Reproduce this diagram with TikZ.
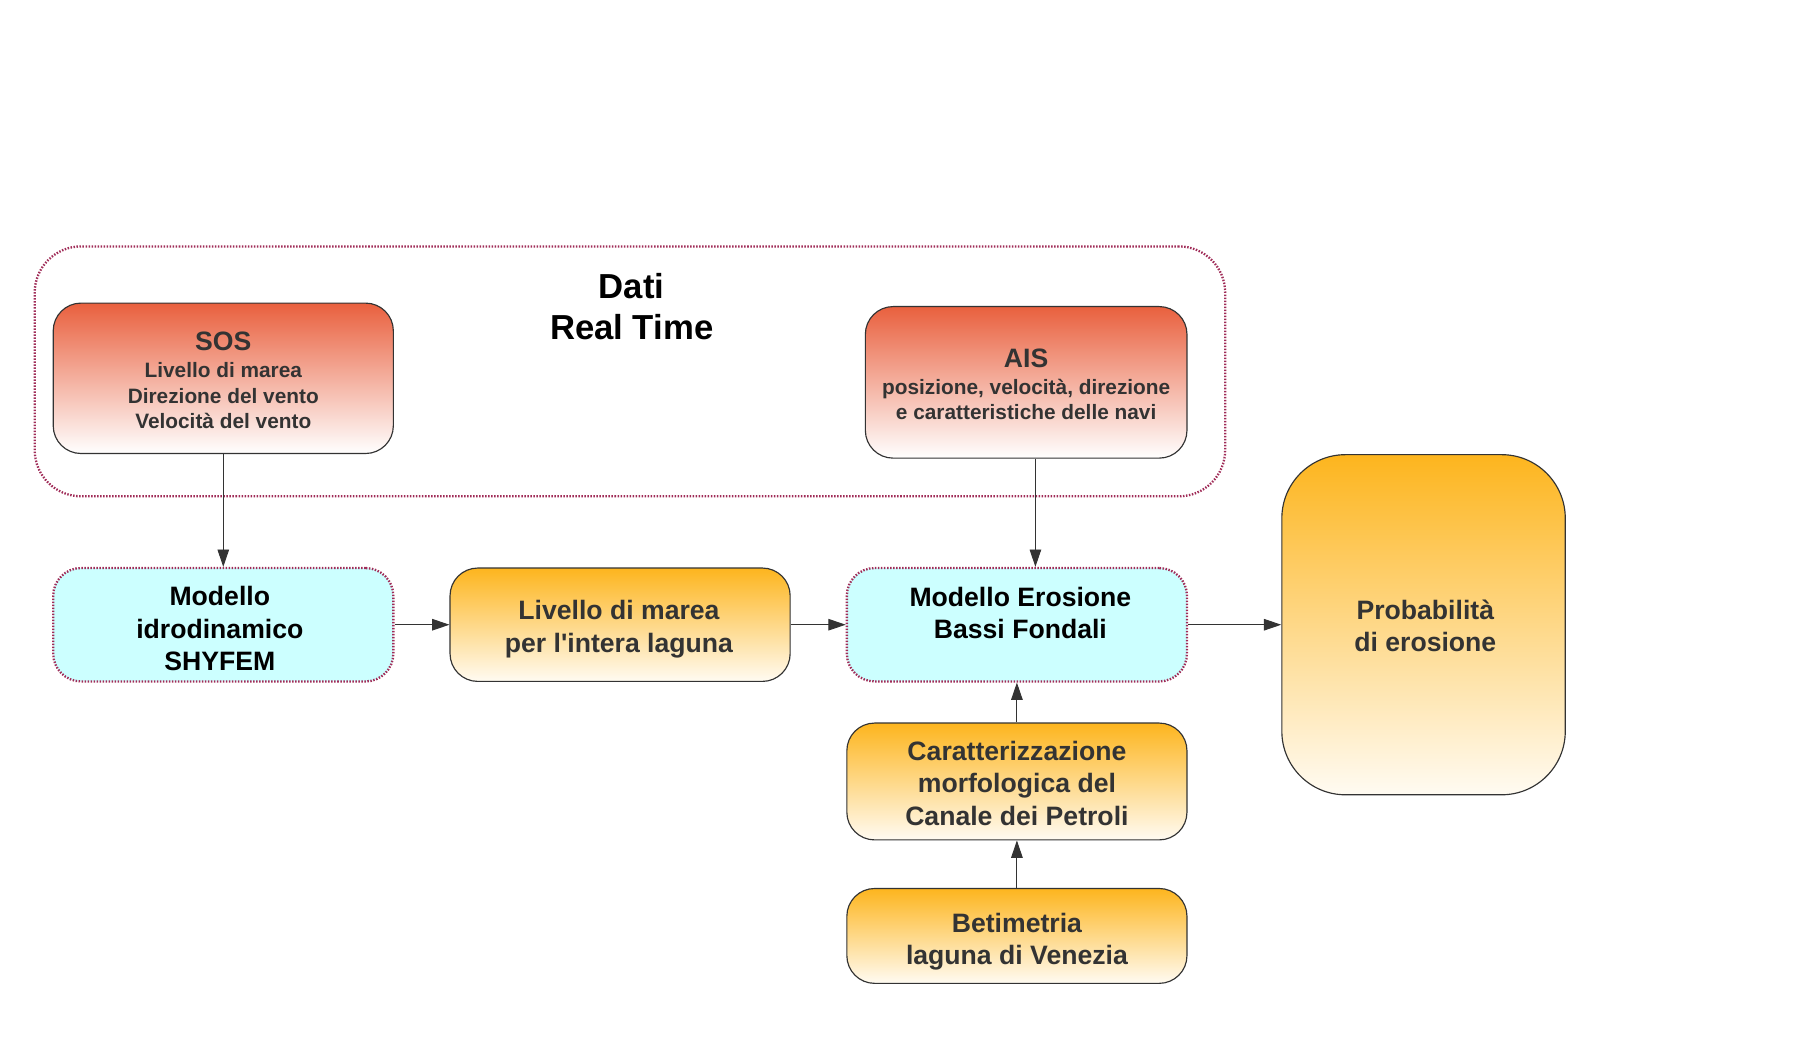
\documentclass[tikz,border=0pt]{standalone}
\usepackage{fontspec}
\setmainfont{Liberation Sans}[Ligatures=TeXOff]
\usetikzlibrary{arrows.meta,calc}
\definecolor{sosred}{HTML}{E9603E}
\definecolor{orng}{HTML}{FDB51E}
\definecolor{orngbot}{HTML}{FFFBF2}
\definecolor{cyanf}{HTML}{CCFFFF}
\definecolor{dotc}{HTML}{A02C58}
\definecolor{txt}{HTML}{333333}
\definecolor{edge}{HTML}{333333}
\tikzset{
  boxbase/.style={rectangle, rounded corners=24pt, inner sep=0pt, minimum width=294pt},
  redbox/.style={boxbase, draw=edge, line width=1pt, top color=sosred, bottom color=white},
  orbox/.style={boxbase, draw=edge, line width=1pt, top color=orng, bottom color=orngbot},
  dotline/.style={draw=dotc, line width=2pt, dash pattern=on 1.3pt off 1.3pt},
  cybox/.style={boxbase, dotline, fill=cyanf},
  bigtxt/.style={font=\fontsize{23}{28}\selectfont\bfseries, text=txt, align=center, inner sep=0pt},
  blktxt/.style={bigtxt, text=black},
  smalltxt/.style={font=\fontsize{18}{22}\selectfont\bfseries, text=txt, align=center, inner sep=0pt},
  headtxt/.style={font=\fontsize{23}{26}\selectfont\bfseries, text=txt, inner sep=0pt},
  conn/.style={draw=edge, line width=0.8pt, -{Triangle[length=15pt,width=10pt]}},
}
\begin{document}
\begin{tikzpicture}[x=1pt,y=-1pt]
\useasboundingbox (0,0) rectangle (1568,914.5);
% container
\node[dotline, rounded corners=40pt,
      minimum width=1029pt, minimum height=216pt, inner sep=0pt] (cont) at (544.5,321) {};
\node[font=\fontsize{30}{36}\selectfont\bfseries, align=center, inner sep=0pt] (title) at (546,265) {Dati\\Real Time};
% source boxes
\node[redbox, minimum height=130pt] (sos) at (193,327) {};
\node[headtxt] (sost) at (193,295) {SOS};
\node[smalltxt] (sosl) at (193,342) {Livello di marea\\Direzione del vento\\Velocità del vento};
\node[redbox, minimum width=278pt, minimum height=131pt] (ais) at (887,330.5) {};
\node[headtxt] (aist) at (887,310) {AIS};
\node[smalltxt] (aisl) at (887,345.5) {posizione, velocità, direzione\\e caratteristiche delle navi};
% middle row
\node[cybox, minimum height=98pt] (idro) at (193,540) {};
\node[blktxt] (idrot) at (190,543.5) {Modello\\idrodinamico\\SHYFEM};
\node[orbox, minimum height=98pt] (liv) at (536,540) {};
\node[bigtxt] (livt) at (535,544) {Livello di marea\\per l'intera laguna};
\node[cybox, minimum height=98pt] (eros) at (879,540) {};
\node[blktxt] (erost) at (882,530) {Modello Erosione\\Bassi Fondali};
\node[orbox, rounded corners=55pt, minimum width=245pt, minimum height=294pt] (prob) at (1230.5,540) {};
\node[bigtxt] (probt) at (1232,541) {Probabilità\\ di erosione};
% lower boxes
\node[orbox, minimum height=101pt] (car) at (879,675.5) {};
\node[bigtxt] (cart) at (879,677) {Caratterizzazione\\morfologica del\\Canale dei Petroli};
\node[orbox, minimum height=82pt] (bet) at (879,809) {};
\node[bigtxt] (bett) at (879,814) {Betimetria\\laguna di Venezia};
% connectors
\draw[conn] (sos.south) -- (idro.north);
\draw[conn] ($(ais.south)+(8,0)$) -- ($(eros.north)+(16,0)$);
\draw[conn] (idro.east) -- (liv.west);
\draw[conn] (liv.east) -- (eros.west);
\draw[conn] (eros.east) -- (prob.west);
\draw[conn] (car.north) -- (eros.south);
\draw[conn] (bet.north) -- (car.south);
\end{tikzpicture}
\end{document}
